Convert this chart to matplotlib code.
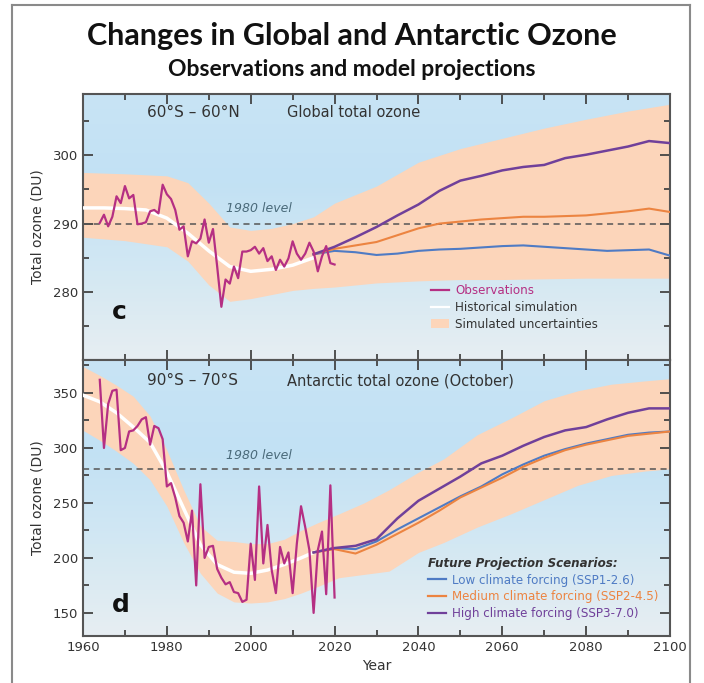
import numpy as np
import matplotlib.pyplot as plt
from matplotlib.colors import LinearSegmentedColormap
from matplotlib.lines import Line2D
from matplotlib.patches import Patch

# ---- panel c : 60S-60N global total ozone ----
obs_years = list(range(1964, 2021))
obs_global = [290.1, 291.3, 289.6, 291.0, 294.0, 293.0, 295.5, 293.7, 294.2, 289.9,
              290.0, 290.2, 291.8, 292.0, 291.5, 295.7, 294.3, 293.6, 292.0, 289.1,
              289.6, 285.2, 287.4, 287.1, 287.8, 290.6, 287.2, 289.2, 283.7, 277.8,
              281.8, 281.2, 283.7, 282.0, 285.9, 285.9, 286.1, 286.6, 285.6, 286.4,
              284.5, 285.2, 283.2, 284.7, 283.7, 284.9, 287.4, 285.6, 284.7, 285.6,
              287.2, 285.9, 283.0, 285.2, 286.7, 284.2, 284.0]

band_years = [1960, 1970, 1980, 1985, 1990, 1995, 2000, 2005, 2010, 2015, 2020,
              2030, 2040, 2050, 2060, 2070, 2080, 2090, 2100]
band_global_hi = [297.5, 297.3, 297.0, 296.0, 293.0, 289.5, 289.0, 289.3, 290.0, 291.0, 293.0,
                  295.5, 299.0, 301.0, 302.5, 304.0, 305.3, 306.5, 307.5]
band_global_lo = [288.0, 287.5, 286.6, 284.5, 281.0, 278.6, 279.0, 279.6, 280.2, 280.5, 280.7,
                  281.3, 281.6, 281.8, 281.8, 281.9, 282.0, 282.0, 282.0]

hist_years = [1960, 1965, 1970, 1975, 1980, 1985, 1990, 1995, 2000, 2005, 2010, 2015]
hist_global = [292.3, 292.3, 292.2, 292.0, 290.8, 288.6, 286.0, 283.7, 283.0, 283.3, 283.9, 285.0]

proj_years = [2015, 2020, 2025, 2030, 2035, 2040, 2045, 2050, 2055, 2060, 2065, 2070,
              2075, 2080, 2085, 2090, 2095, 2100]
glob_low = [285.5, 286.0, 285.8, 285.4, 285.6, 286.0, 286.2, 286.3, 286.5, 286.7, 286.8, 286.6,
            286.4, 286.2, 286.0, 286.1, 286.2, 285.3]
glob_med = [285.5, 286.3, 286.8, 287.3, 288.3, 289.3, 290.0, 290.3, 290.6, 290.8, 291.0, 291.0,
            291.1, 291.2, 291.5, 291.8, 292.2, 291.7]
glob_high = [285.5, 286.6, 288.0, 289.5, 291.2, 292.8, 294.8, 296.3, 297.0, 297.8, 298.3, 298.6,
             299.6, 300.1, 300.7, 301.3, 302.1, 301.8]

# ---- panel d : 90S-70S Antarctic October total ozone ----
obs_antarctic = [362, 300, 340, 352, 353, 298, 300, 315, 316, 320,
                 326, 328, 303, 320, 318, 308, 265, 268, 255, 238,
                 232, 215, 243, 175, 267, 200, 210, 211, 190, 182,
                 176, 178, 169, 168, 160, 162, 213, 180, 265, 195,
                 230, 189, 168, 210, 195, 205, 168, 213, 247, 228,
                 207, 150, 207, 224, 167, 266, 164]

band_ant_years = [1960, 1964, 1968, 1972, 1976, 1980, 1984, 1988, 1992, 1996, 2000, 2004,
                  2008, 2012, 2016, 2021, 2027, 2033, 2040, 2046, 2054, 2062, 2070, 2078,
                  2086, 2094, 2100]
band_ant_hi = [374, 366, 357, 347, 329, 298, 262, 229, 216, 215, 213, 213,
               217, 225, 232, 240, 250, 262, 278, 290, 312, 327, 343, 352,
               358, 361, 363]
band_ant_lo = [316, 307, 297, 286, 271, 247, 214, 186, 168, 160, 159, 160,
               163, 168, 174, 182, 185, 188, 205, 214, 228, 240, 253, 266,
               275, 279, 281]

hist_ant_years = [1960, 1964, 1968, 1972, 1976, 1980, 1984, 1988, 1992, 1996, 2000, 2004,
                  2008, 2012, 2015]
hist_ant = [348, 342, 332, 319, 305, 278, 245, 212, 194, 187, 186, 189, 194, 200, 205]

ant_low = [205, 209, 208, 215, 226, 236, 246, 256, 265, 276, 285, 293,
           299, 304, 308, 312, 314, 315]
ant_med = [205, 208, 204, 212, 222, 232, 243, 255, 264, 273, 283, 291,
           298, 303, 307, 311, 313, 315]
ant_high = [205, 209, 211, 217, 236, 252, 263, 274, 286, 293, 302, 310,
            316, 319, 326, 332, 336, 336]

level_global = 290
level_ant = 281

c_obs = '#b52f83'
c_low = '#4f7bc4'
c_med = '#ec8441'
c_high = '#70409a'
c_band = '#fcd5ba'
c_text = '#333333'

bg = LinearSegmentedColormap.from_list('bg', ['#e7eef2', '#d3e8f3', '#c2e1f4', '#c8e4f5'])

fig = plt.figure(figsize=(7.04, 6.83), dpi=100)
fig.patch.set_facecolor('white')

# grey frame around the figure
for xs, ys in [([12/704, 12/704], [0, 1-5/683]), ([690/704, 690/704], [0, 1-5/683]),
               ([12/704, 690/704], [1-5/683, 1-5/683])]:
    fig.add_artist(Line2D(xs, ys, color='#8a8a8a', lw=1.5, transform=fig.transFigure))

fig.text(0.5, 1-36/683, 'Changes in Global and Antarctic Ozone', ha='center', va='center',
         fontsize=22, fontweight='bold', family='Lato', color='#111111')
fig.text(0.5, 1-70/683, 'Observations and model projections', ha='center', va='center',
         fontsize=16.5, fontweight='bold', family='Lato', color='#111111')

ax1 = fig.add_axes([83/704, 1-360/683, 587/704, 266/683])
ax2 = fig.add_axes([83/704, 1-636/683, 587/704, 276/683])


def setup(ax, ylim, major, minor):
    grad = np.linspace(0, 1, 256).reshape(-1, 1)
    ax.imshow(grad, extent=[1960, 2100, ylim[0], ylim[1]], origin='lower', aspect='auto',
              cmap=bg, zorder=0)
    ax.set_xlim(1960, 2100)
    ax.set_ylim(*ylim)
    ax.set_xticks(range(1960, 2101, 20))
    ax.set_xticks(range(1970, 2100, 20), minor=True)
    ax.set_yticks(major)
    ax.set_yticks(minor, minor=True)
    ax.tick_params(which='both', direction='in', top=True, right=True, colors='#444444',
                   labelcolor=c_text, labelsize=9.5, width=1.3)
    ax.tick_params(which='major', length=7)
    ax.tick_params(which='minor', length=4)
    for s in ax.spines.values():
        s.set_color('#555555')
        s.set_linewidth(1.5)
    ax.set_ylabel('Total ozone (DU)', fontsize=10, color=c_text, labelpad=6)


# panel c
setup(ax1, (270, 309), [280, 290, 300], [275, 285, 295, 305])
ax1.tick_params(labelbottom=False)
ax1.fill_between(band_years, band_global_lo, band_global_hi, color=c_band, lw=0, zorder=1)
ax1.axhline(level_global, color='#555555', lw=1.1, ls=(0, (4, 3)), zorder=2)
ax1.plot(hist_years, hist_global, color='white', lw=2.5, zorder=3)
ax1.plot(proj_years, glob_low, color=c_low, lw=1.5, zorder=4)
ax1.plot(proj_years, glob_med, color=c_med, lw=1.5, zorder=4)
ax1.plot(proj_years, glob_high, color=c_high, lw=1.8, zorder=4)
ax1.plot(obs_years, obs_global, color=c_obs, lw=1.6, zorder=5)
ax1.text(1975.3, 306.3, '60°S – 60°N', fontsize=11, color=c_text, va='center')
ax1.text(2008.6, 306.3, 'Global total ozone', fontsize=10.5, color=c_text, va='center')
ax1.text(2002, 291.7, '1980 level', fontsize=9, style='italic', color='#4a6a7a', ha='center')
ax1.text(1967, 277, 'c', fontsize=18, fontweight='bold', color='#111111', va='center')
h1 = [Line2D([], [], color=c_obs, lw=1.6),
      Line2D([], [], color='white', lw=1.6),
      Patch(facecolor=c_band, edgecolor='none')]
ax1.legend(h1, ['Observations', 'Historical simulation', 'Simulated uncertainties'],
           loc='lower left', bbox_to_anchor=(0.575, 0.07), frameon=False, fontsize=8.6,
           handlelength=1.5, handletextpad=0.5, labelspacing=0.3,
           labelcolor=[c_obs, c_text, c_text])

# panel d
setup(ax2, (129, 380), [150, 200, 250, 300, 350], [175, 225, 275, 325, 375])
ax2.fill_between(band_ant_years, band_ant_lo, band_ant_hi, color=c_band, lw=0, zorder=1)
ax2.axhline(level_ant, color='#555555', lw=1.1, ls=(0, (4, 3)), zorder=2)
ax2.plot(hist_ant_years, hist_ant, color='white', lw=2.5, zorder=3)
ax2.plot(proj_years, ant_low, color=c_low, lw=1.5, zorder=4)
ax2.plot(proj_years, ant_med, color=c_med, lw=1.5, zorder=4)
ax2.plot(proj_years, ant_high, color=c_high, lw=1.8, zorder=4)
ax2.plot(obs_years, obs_antarctic, color=c_obs, lw=1.6, zorder=5)
ax2.text(1975.3, 361, '90°S – 70°S', fontsize=11, color=c_text, va='center')
ax2.text(2008.6, 361, 'Antarctic total ozone (October)', fontsize=10.5, color=c_text, va='center')
ax2.text(2002, 290, '1980 level', fontsize=9, style='italic', color='#4a6a7a', ha='center')
ax2.text(1967, 157, 'd', fontsize=18, fontweight='bold', color='#111111', va='center')
ax2.set_xlabel('Year', fontsize=10, color=c_text, labelpad=4)
h2 = [Line2D([], [], color=c, lw=1.6) for c in (c_low, c_med, c_high)]
leg = ax2.legend(h2, ['Low climate forcing (SSP1-2.6)', 'Medium climate forcing (SSP2-4.5)',
                      'High climate forcing (SSP3-7.0)'],
                 loc='lower left', bbox_to_anchor=(0.57, 0.02), frameon=False, fontsize=8.6,
                 handlelength=1.5, handletextpad=0.5, labelspacing=0.3,
                 labelcolor=[c_low, c_med, c_high],
                 title='Future Projection Scenarios:',
                 title_fontproperties={'style': 'italic', 'weight': 'bold', 'size': 8.6})
leg._legend_box.align = 'left'
leg.get_title().set_color(c_text)

fig.savefig('out.png', dpi=100)
